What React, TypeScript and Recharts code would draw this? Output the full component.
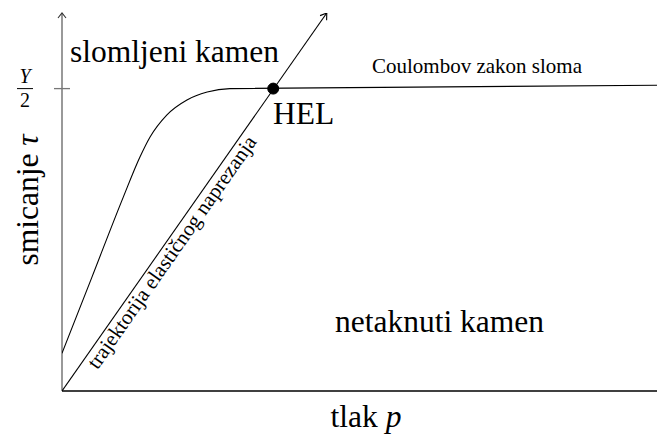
import React from "react";
import {
  ComposedChart,
  Line,
  XAxis,
  YAxis,
  ReferenceLine,
  ReferenceDot,
} from "recharts";

// Coulomb failure curve (p, tau)
const failureP = [0, 0.5, 1.03, 1.31, 1.48, 1.76, 2.1, 2.44, 2.82, 10];
const failureTau = [1.0, 3.0, 5.13, 6.19, 6.72, 7.3, 7.7, 7.91, 8.0, 8.09];
// elastic loading trajectory
const elasticP = [0, 4.45];
const elasticTau = [0, 10];
// Hugoniot elastic limit
const helP = 3.55;
const helTau = 8.0;
const yTicks = [8];

const failureData = failureP.map((p, i) => ({ p, tau: failureTau[i] }));
const elasticData = elasticP.map((p, i) => ({ p, tau: elasticTau[i] }));

const FONT = "Liberation Serif, Times New Roman, DejaVu Serif, serif";
const txt = (size: number, extra: React.CSSProperties = {}): React.CSSProperties => ({
  fontFamily: FONT,
  fontSize: size,
  fill: "#000",
  ...extra,
});

const YTick = (props: any) => {
  const { x, y } = props;
  return (
    <g>
      <line x1={x - 8} y1={y} x2={x + 8} y2={y} stroke="#777" strokeWidth={1.3} />
      <text x={25} y={y - 6} textAnchor="middle" style={txt(20, { fontStyle: "italic" })}>
        Y
      </text>
      <line x1={17} y1={y} x2={33} y2={y} stroke="#000" strokeWidth={1} />
      <text x={25} y={y + 18} textAnchor="middle" style={txt(20)}>
        2
      </text>
    </g>
  );
};

export default function App() {
  return (
    <div style={{ position: "absolute", left: 0, top: 0, width: 657, height: 441, background: "#fff" }}>
      <svg width={0} height={0} style={{ position: "absolute" }}>
        <defs>
          <marker id="arrowBlack" viewBox="-8 -6 10 12" refX={0} refY={0} markerWidth={10} markerHeight={12} markerUnits="userSpaceOnUse" orient="auto">
            <path d="M -6 -4 L 0 0 L -6 4" fill="none" stroke="#000" strokeWidth={1.1} />
          </marker>
          <marker id="arrowGray" viewBox="-8 -6 10 12" refX={0} refY={0} markerWidth={10} markerHeight={12} markerUnits="userSpaceOnUse" orient="auto">
            <path d="M -5 -4 L 0 0 L -5 4" fill="none" stroke="#333" strokeWidth={1.1} />
          </marker>
        </defs>
      </svg>
      <ComposedChart width={657} height={441} margin={{ top: 13, right: 0, bottom: 0, left: 0 }}>
        <XAxis
          type="number"
          dataKey="p"
          domain={[0, 10]}
          ticks={[]}
          tick={false}
          tickLine={false}
          axisLine={{ stroke: "#000", strokeWidth: 1.5 }}
          height={50}
          allowDataOverflow
        />
        <YAxis
          type="number"
          domain={[0, 10]}
          ticks={yTicks}
          tick={<YTick />}
          tickLine={false}
          tickSize={0}
          tickMargin={0}
          axisLine={false}
          width={62}
          allowDataOverflow
        />
        <ReferenceLine
          segment={[{ x: 0, y: 0 }, { x: 0, y: 10 }]}
          stroke="#777"
          strokeWidth={1.5}
          markerEnd="url(#arrowGray)"
          ifOverflow="visible"
        />
        <Line
          data={failureData}
          dataKey="tau"
          type="monotoneX"
          stroke="#000"
          strokeWidth={1.1}
          dot={false}
          activeDot={false}
          isAnimationActive={false}
        />
        <Line
          data={elasticData}
          dataKey="tau"
          type="linear"
          stroke="#000"
          strokeWidth={1.1}
          dot={false}
          activeDot={false}
          isAnimationActive={false}
          markerEnd="url(#arrowBlack)"
        />
        <ReferenceDot x={helP} y={helTau} r={5.5} fill="#000" stroke="#000" ifOverflow="visible" />
        <text x={70} y={62} style={txt(31.5)}>slomljeni kamen</text>
        <text x={273} y={124} style={txt(31.5)}>HEL</text>
        <text x={372} y={73} style={txt(21)}>Coulombov zakon sloma</text>
        <text x={335} y={332} style={txt(31.5)}>netaknuti kamen</text>
        <text x={366} y={427} textAnchor="middle" style={txt(31.5)}>
          tlak <tspan style={{ fontStyle: "italic" }}>p</tspan>
        </text>
        <text
          x={38}
          y={200}
          textAnchor="middle"
          transform="rotate(-90 38 200)"
          style={txt(31.5)}
        >
          smicanje <tspan style={{ fontStyle: "italic" }}>τ</tspan>
        </text>
        <text
          x={177.5}
          y={256}
          textAnchor="middle"
          transform="rotate(-55 177.5 256)"
          style={txt(21)}
        >
          trajektorija elastičnog naprezanja
        </text>
      </ComposedChart>
    </div>
  );
}
